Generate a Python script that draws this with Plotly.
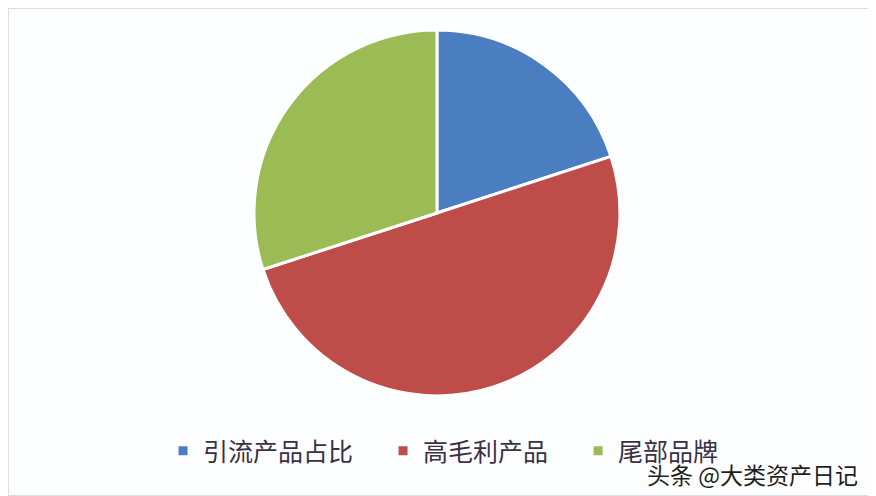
import plotly.graph_objects as go

labels = ["引流产品占比", "高毛利产品", "尾部品牌"]
values = [20, 50, 30]
colors = ["#4A7EC0", "#BE4D4A", "#9BBB55"]

# the page body adds an 8px margin, so the figure is 8px smaller each way
W, H = 868, 488

fig = go.Figure()
fig.add_trace(go.Pie(
    labels=[l + "\u2003" for l in labels],  # em space widens gap between legend items
    values=values, sort=False, direction="clockwise", rotation=0,
    marker=dict(colors=colors, line=dict(color="white", width=3)),
    textinfo="none", hoverinfo="label+percent",
    domain=dict(x=[0.2834, 0.705], y=[0.205, 0.955]),
))

fig.update_layout(
    width=W, height=H,
    margin=dict(l=0, r=0, t=0, b=0),
    paper_bgcolor="#FDFEFF", plot_bgcolor="#FDFEFF",
    font=dict(family="Noto Sans CJK SC", color="#3A3045"),
    legend=dict(orientation="h", x=0.1786, y=0.0922, xanchor="left", yanchor="middle",
                font=dict(size=25), itemwidth=30, bgcolor="rgba(0,0,0,0)"),
    # watermark (overlaps the last legend entry, as in the source)
    annotations=[dict(text="头条 @大类资产日记", x=0.9816, y=0.045, xref="paper", yref="paper",
                      xanchor="right", yanchor="middle", showarrow=False,
                      font=dict(size=23, color="#1E1E1E", family="Noto Sans CJK SC",
                                shadow="1px 1px 1px white"))],
    shapes=[dict(type="rect", xref="paper", yref="paper", x0=0, y0=0, x1=1, y1=1,
                 line=dict(color="#DADDE2", width=2))],
)

fig.write_html("out.html")
